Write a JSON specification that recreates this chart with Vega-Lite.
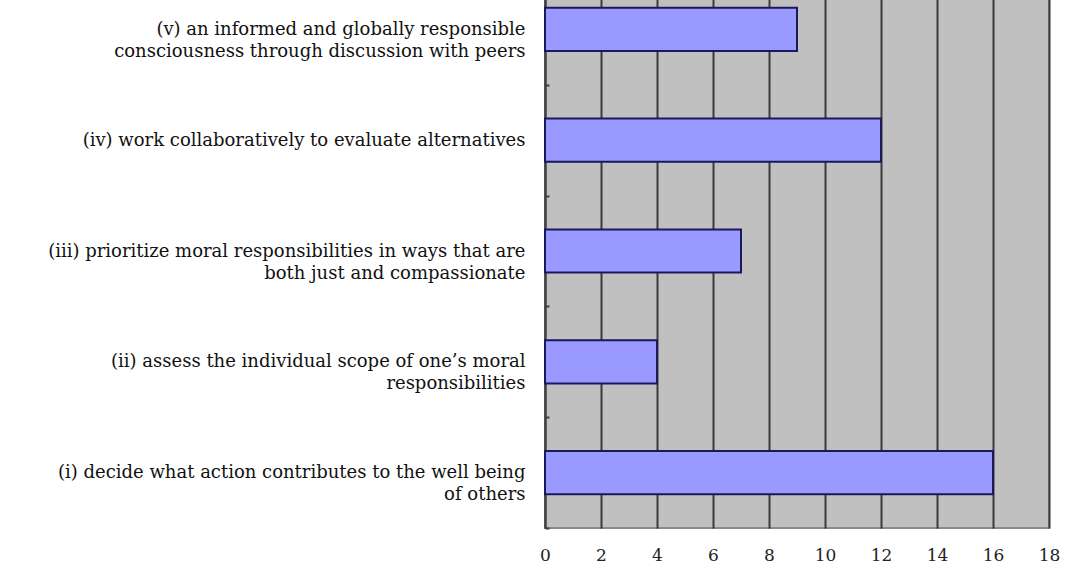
{
  "$schema": "https://vega.github.io/schema/vega-lite/v6.json",
  "width": 504,
  "height": 554,
  "autosize": {"type": "none"},
  "padding": {"left": 545, "top": -26, "right": 16, "bottom": 42},
  "background": "white",
  "data": {
    "values": [
      {"item": "(v) an informed and globally responsible|consciousness through discussion with peers", "count": 9},
      {"item": "(iv) work collaboratively to evaluate alternatives", "count": 12},
      {"item": "(iii) prioritize moral responsibilities in ways that are|both just and compassionate", "count": 7},
      {"item": "(ii) assess the individual scope of one’s moral|responsibilities", "count": 4},
      {"item": "(i) decide what action contributes to the well being|of others", "count": 16}
    ]
  },
  "mark": {"type": "bar", "fill": "#9999FF", "stroke": "#1A1A5A", "strokeWidth": 2, "height": {"band": 0.39}},
  "encoding": {
    "y": {
      "field": "item",
      "type": "nominal",
      "sort": null,
      "scale": {"paddingInner": 0, "paddingOuter": 0},
      "axis": {
        "title": null,
        "labelExpr": "split(datum.label, '|')",
        "labelFont": "DejaVu Serif",
        "labelFontSize": 18,
        "labelColor": "#111111",
        "labelLineHeight": 22,
        "labelLimit": 600,
        "labelPadding": 24,
        "domainColor": "#404040",
        "domainWidth": 2,
        "ticks": true,
        "tickBand": "extent",
        "tickSize": -4,
        "tickWidth": 2,
        "tickColor": "#404040",
        "grid": false
      }
    },
    "x": {
      "field": "count",
      "type": "quantitative",
      "scale": {"domain": [0, 18], "nice": false},
      "axis": {
        "title": null,
        "values": [0, 2, 4, 6, 8, 10, 12, 14, 16, 18],
        "labelFont": "DejaVu Serif",
        "labelFontSize": 17,
        "labelColor": "#222222",
        "labelPadding": 19,
        "labelFlush": false,
        "domain": false,
        "ticks": false,
        "grid": true,
        "gridColor": "#3a3a3a",
        "gridWidth": 2
      }
    }
  },
  "config": {"view": {"fill": "#C0C0C0", "stroke": "#8a8a8a", "strokeWidth": 2}}
}
